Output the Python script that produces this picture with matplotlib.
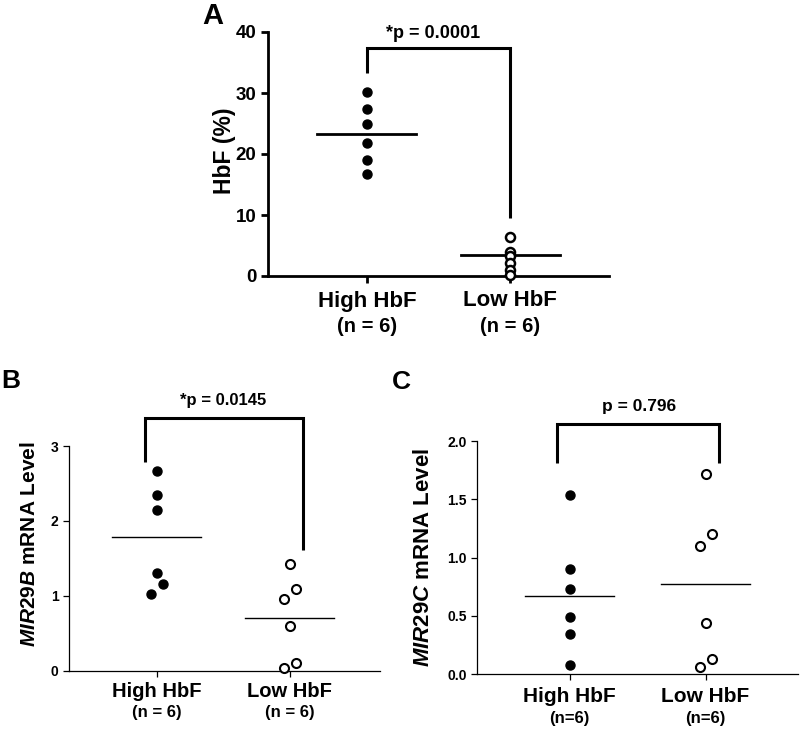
import matplotlib
matplotlib.use("Agg")
from matplotlib import pyplot as plt

plt.rcParams['font.family'] = ['Liberation Sans', 'DejaVu Sans']
plt.rcParams['font.weight'] = 'bold'
plt.rcParams['mathtext.fontset'] = 'custom'
plt.rcParams['mathtext.rm'] = 'Liberation Sans:bold'
plt.rcParams['mathtext.it'] = 'Liberation Sans:italic:bold'
plt.rcParams['mathtext.bf'] = 'Liberation Sans:bold'

# data
groups = ["High HbF", "Low HbF"]
n_a = ["(n = 6)", "(n = 6)"]
n_b = ["(n = 6)", "(n = 6)"]
n_c = ["(n=6)", "(n=6)"]

hbf_high = [30.1, 27.4, 24.9, 21.8, 19.0, 16.7]
hbf_low = [6.4, 4.0, 3.3, 2.2, 1.0, 0.1]
hbf_means = [23.3, 3.5]

b_high = [2.67, 2.35, 2.15, 1.31, 1.16, 1.02]
b_low = [1.42, 1.09, 0.96, 0.60, 0.10, 0.04]
b_means = [1.78, 0.71]

c_high = [1.54, 0.905, 0.73, 0.49, 0.34, 0.074]
c_low = [1.72, 1.20, 1.10, 0.435, 0.13, 0.063]
c_means = [0.673, 0.774]

# horizontal scatter of the dots
b_high_dx = [0, 0, 0, 0, 0.045, -0.045]
b_low_dx = [0, 0.045, -0.045, 0, 0.045, -0.045]
c_high_dx = [0, 0, 0, 0, 0, 0]
c_low_dx = [0, 0.049, -0.044, 0, 0.049, -0.044]

fig = plt.figure(figsize=(8, 7.3), dpi=100)


def px_axes(l, t, r, b):
    W, H = 800.0, 730.0
    return fig.add_axes([l / W, 1 - b / H, (r - l) / W, (b - t) / H])


def style(ax, lw, ticksize, ticklen):
    for s in ['top', 'right']:
        ax.spines[s].set_visible(False)
    for s in ['left', 'bottom']:
        ax.spines[s].set_linewidth(lw)
    ax.tick_params(direction='out', width=lw, length=ticklen, labelsize=ticksize)
    ax.set_xticks([1, 2])
    ax.set_xticklabels(['', ''])


def group_labels(ax, names, ns, off1, off2, s1, s2):
    for i in range(2):
        ax.annotate(names[i], (i + 1, 0), xycoords=('data', 'axes fraction'),
                    xytext=(0, -off1), textcoords='offset points',
                    ha='center', va='center', fontsize=s1, fontweight='bold')
        ax.annotate(ns[i], (i + 1, 0), xycoords=('data', 'axes fraction'),
                    xytext=(0, -off2), textcoords='offset points',
                    ha='center', va='center', fontsize=s2, fontweight='bold')


def bracket(ax, x1, x2, y1, ytop, y2, lw):
    ax.plot([x1, x1, x2, x2], [y1, ytop, ytop, y2], color='black', lw=lw,
            clip_on=False, solid_capstyle='butt', solid_joinstyle='miter')


# ---- panel A
axA = px_axes(268, 32, 609, 276)
style(axA, 2.0, 13.5, 5)
axA.set_xlim(0.31, 2.69)
axA.set_ylim(0, 40)
axA.set_yticks([0, 10, 20, 30, 40])
axA.plot([1] * len(hbf_high), hbf_high, 'o', color='black', ms=6.5, clip_on=False, zorder=3)
axA.plot([2] * len(hbf_low), hbf_low, 'o', mfc='white', mec='black', mew=1.8, ms=6.5,
         clip_on=False, zorder=3)
for i, m in enumerate(hbf_means):
    axA.plot([i + 1 - 0.345, i + 1 + 0.345], [m, m], color='black', lw=2.0)
bracket(axA, 1, 2, 33.3, 37.4, 9.5, 2.2)
axA.text(1.46, 39.8, "*p = 0.0001", ha='center', va='center', fontsize=13, fontweight='bold')
group_labels(axA, groups, n_a, 18, 36, 16, 14.5)
fig.text(225 / 800, 1 - 151 / 730, "HbF (%)", rotation=90, ha='center', va='center',
         fontsize=16.5, fontweight='bold')

# ---- panel B
axB = px_axes(69, 446, 380, 670.7)
style(axB, 0.9, 10, 4)
axB.set_xlim(0.34, 2.68)
axB.set_ylim(0, 3)
axB.set_yticks([0, 1, 2, 3])
axB.plot([1 + d for d in b_high_dx], b_high, 'o', color='black', ms=6.5, clip_on=False, zorder=3)
axB.plot([2 + d for d in b_low_dx], b_low, 'o', mfc='white', mec='black', mew=1.5, ms=6.5,
         clip_on=False, zorder=3)
for i, m in enumerate(b_means):
    axB.plot([i + 1 - 0.335, i + 1 + 0.335], [m, m], color='black', lw=1.0)
bracket(axB, 0.91, 2.10, 2.79, 3.37, 1.61, 2.2)
axB.text(1.50, 3.61, "*p = 0.0145", ha='center', va='center', fontsize=12, fontweight='bold')
group_labels(axB, groups, n_b, 15, 30, 14.5, 12)
fig.text(30 / 800, 1 - 544.5 / 730, r"$\mathit{MIR}$29$\mathit{B}$ mRNA Level", rotation=90,
         ha='center', va='center', fontsize=15, fontweight='bold')

# ---- panel C
axC = px_axes(477.3, 441.3, 798, 674)
style(axC, 0.9, 10, 4)
axC.set_xlim(0.32, 2.68)
axC.set_ylim(0, 2)
axC.set_yticks([0, 0.5, 1.0, 1.5, 2.0])
axC.set_yticklabels(["0.0", "0.5", "1.0", "1.5", "2.0"])
axC.plot([1 + d for d in c_high_dx], c_high, 'o', color='black', ms=6.5, clip_on=False, zorder=3)
axC.plot([2 + d for d in c_low_dx], c_low, 'o', mfc='white', mec='black', mew=1.5, ms=6.5,
         clip_on=False, zorder=3)
for i, m in enumerate(c_means):
    axC.plot([i + 1 - 0.327, i + 1 + 0.327], [m, m], color='black', lw=1.0)
bracket(axC, 0.91, 2.10, 1.81, 2.147, 1.81, 2.2)
axC.text(1.51, 2.30, "p = 0.796", ha='center', va='center', fontsize=12.5, fontweight='bold')
group_labels(axC, groups, n_c, 16.5, 32, 15, 12)
fig.text(423 / 800, 1 - 557.5 / 730, r"$\mathit{MIR}$29$\mathit{C}$ mRNA Level", rotation=90,
         ha='center', va='center', fontsize=16, fontweight='bold')

# panel letters
fig.text(202 / 800, 1 - 2 / 730, "A", ha='left', va='top', fontsize=21, fontweight='bold')
fig.text(1 / 800, 1 - 381 / 730, "B", ha='left', va='center', fontsize=19, fontweight='bold')
fig.text(392 / 800, 1 - 382 / 730, "C", ha='left', va='center', fontsize=19, fontweight='bold')

fig.savefig("out.png", dpi=100)
